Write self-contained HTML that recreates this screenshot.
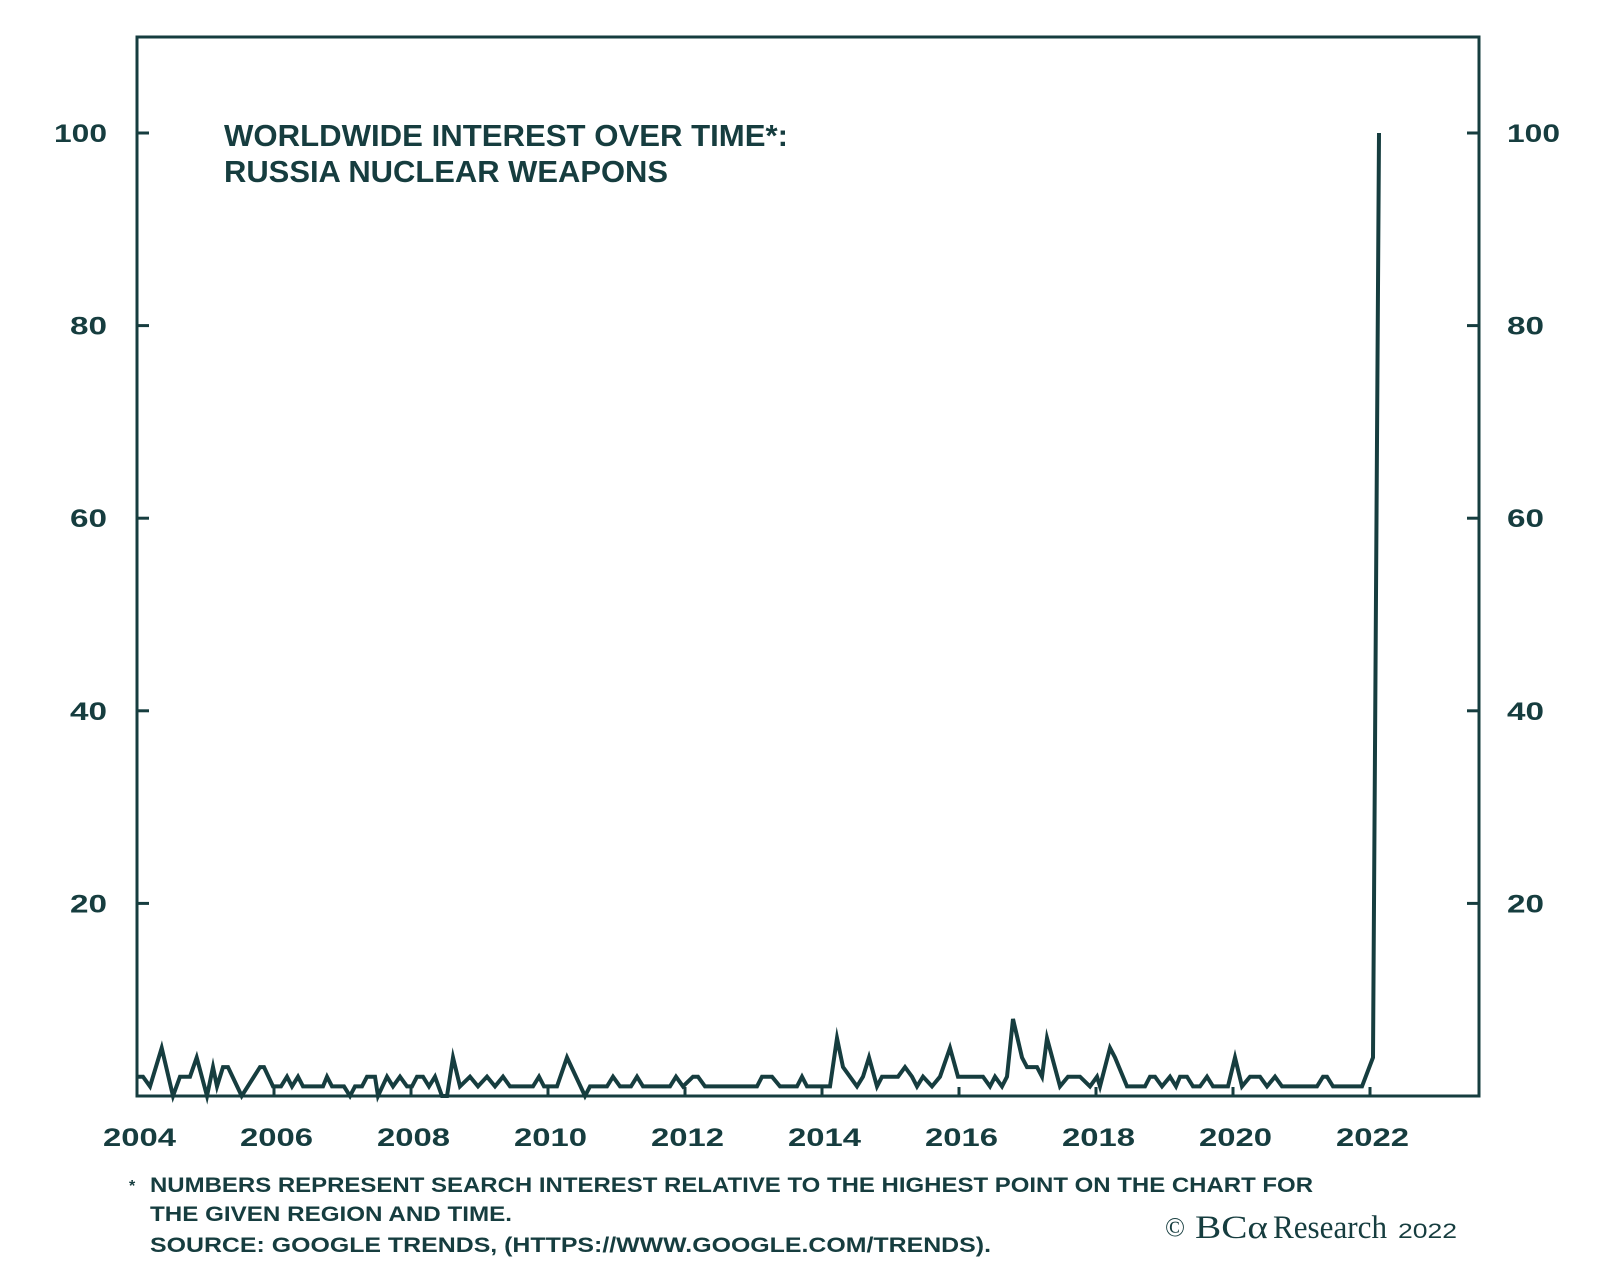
<!DOCTYPE html>
<html>
<head>
<meta charset="utf-8">
<style>
  html, body { margin: 0; padding: 0; background: #ffffff; }
  svg { display: block; }
  .lab { font-family: "Liberation Sans", "DejaVu Sans", sans-serif; font-weight: bold; fill: #163d3f; }
  .ser { font-family: "Liberation Serif", "DejaVu Serif", serif; fill: #163d3f; }
</style>
</head>
<body>
<svg width="1600" height="1288" viewBox="0 0 1600 1288" xmlns="http://www.w3.org/2000/svg">
  <rect x="0" y="0" width="1600" height="1288" fill="#ffffff"/>

  <!-- frame -->
  <rect x="137" y="37" width="1342" height="1059" fill="none" stroke="#163d3f" stroke-width="3"/>

  <!-- y ticks (inward, both sides) -->
  <g stroke="#163d3f" stroke-width="3">
    <line x1="137" y1="133" x2="149" y2="133"/>
    <line x1="137" y1="325.6" x2="149" y2="325.6"/>
    <line x1="137" y1="518.2" x2="149" y2="518.2"/>
    <line x1="137" y1="710.8" x2="149" y2="710.8"/>
    <line x1="137" y1="903.4" x2="149" y2="903.4"/>
    <line x1="1467" y1="133" x2="1479" y2="133"/>
    <line x1="1467" y1="325.6" x2="1479" y2="325.6"/>
    <line x1="1467" y1="518.2" x2="1479" y2="518.2"/>
    <line x1="1467" y1="710.8" x2="1479" y2="710.8"/>
    <line x1="1467" y1="903.4" x2="1479" y2="903.4"/>
    <!-- x ticks (inward, upward) -->
    <line x1="274" y1="1096" x2="274" y2="1087"/>
    <line x1="411" y1="1096" x2="411" y2="1087"/>
    <line x1="548" y1="1096" x2="548" y2="1087"/>
    <line x1="685" y1="1096" x2="685" y2="1087"/>
    <line x1="822" y1="1096" x2="822" y2="1087"/>
    <line x1="959" y1="1096" x2="959" y2="1087"/>
    <line x1="1096" y1="1096" x2="1096" y2="1087"/>
    <line x1="1233" y1="1096" x2="1233" y2="1087"/>
    <line x1="1370" y1="1096" x2="1370" y2="1087"/>
  </g>

  <!-- left y labels -->
  <g class="lab" font-size="25" text-anchor="end">
    <text x="107" y="142" textLength="53" lengthAdjust="spacingAndGlyphs">100</text>
    <text x="107" y="334.6" textLength="37" lengthAdjust="spacingAndGlyphs">80</text>
    <text x="107" y="527.2" textLength="37" lengthAdjust="spacingAndGlyphs">60</text>
    <text x="107" y="719.8" textLength="37" lengthAdjust="spacingAndGlyphs">40</text>
    <text x="107" y="912.4" textLength="37" lengthAdjust="spacingAndGlyphs">20</text>
  </g>
  <!-- right y labels -->
  <g class="lab" font-size="25">
    <text x="1507" y="142" textLength="53" lengthAdjust="spacingAndGlyphs">100</text>
    <text x="1507" y="334.6" textLength="37" lengthAdjust="spacingAndGlyphs">80</text>
    <text x="1507" y="527.2" textLength="37" lengthAdjust="spacingAndGlyphs">60</text>
    <text x="1507" y="719.8" textLength="37" lengthAdjust="spacingAndGlyphs">40</text>
    <text x="1507" y="912.4" textLength="37" lengthAdjust="spacingAndGlyphs">20</text>
  </g>

  <!-- x labels -->
  <g class="lab" font-size="25">
    <text x="103" y="1146" textLength="73" lengthAdjust="spacingAndGlyphs">2004</text>
    <text x="240" y="1146" textLength="73" lengthAdjust="spacingAndGlyphs">2006</text>
    <text x="377" y="1146" textLength="73" lengthAdjust="spacingAndGlyphs">2008</text>
    <text x="514" y="1146" textLength="73" lengthAdjust="spacingAndGlyphs">2010</text>
    <text x="651" y="1146" textLength="73" lengthAdjust="spacingAndGlyphs">2012</text>
    <text x="788" y="1146" textLength="73" lengthAdjust="spacingAndGlyphs">2014</text>
    <text x="925" y="1146" textLength="73" lengthAdjust="spacingAndGlyphs">2016</text>
    <text x="1062" y="1146" textLength="73" lengthAdjust="spacingAndGlyphs">2018</text>
    <text x="1199" y="1146" textLength="73" lengthAdjust="spacingAndGlyphs">2020</text>
    <text x="1336" y="1146" textLength="73" lengthAdjust="spacingAndGlyphs">2022</text>
  </g>

  <!-- title -->
  <g class="lab" font-size="31">
    <text x="224" y="146" textLength="564" lengthAdjust="spacingAndGlyphs">WORLDWIDE INTEREST OVER TIME*:</text>
    <text x="224" y="182" textLength="444" lengthAdjust="spacingAndGlyphs">RUSSIA NUCLEAR WEAPONS</text>
  </g>

  <!-- series -->
  <polyline fill="none" stroke="#163d3f" stroke-width="4" stroke-linejoin="miter" stroke-miterlimit="6"
    points="
137,1076.7 143,1076.7 150,1086.4 161.7,1047.9 173,1096 180,1076.7 190,1076.7 196.7,1057.5 207,1096
213,1067.1 217,1086.4 223,1067.1 228,1067.1 241.7,1096 260,1067.1 264,1067.1 273,1086.4 281,1086.4
287,1076.7 292,1086.4 298,1076.7 303,1086.4 323,1086.4 327,1076.7 332,1086.4 344,1086.4 350,1096
355,1086.4 362,1086.4 367,1076.7 375,1076.7 378,1096 387,1076.7 393,1086.4 400,1076.7 407,1086.4
412,1086.4 417,1076.7 423,1076.7 429,1086.4 435,1076.7 442,1096 447,1096 453,1057.5 460,1086.4
470,1076.7 478,1086.4 487,1076.7 495,1086.4 503,1076.7 510,1086.4 533,1086.4 539,1076.7 544,1086.4
557,1086.4 567,1057.5 585,1096 590,1086.4 607,1086.4 613,1076.7 620,1086.4 631,1086.4 637,1076.7
643,1086.4 670,1086.4 676,1076.7 683,1086.4 693,1076.7 698,1076.7 705,1086.4 757,1086.4 762,1076.7
772,1076.7 780,1086.4 797,1086.4 802,1076.7 807,1086.4 830,1086.4 837,1038.2 843,1067.1 857,1086.4
863,1076.7 869,1057.5 877,1086.4 882,1076.7 898,1076.7 905,1067.1 912,1076.7 917,1086.4 923,1076.7
932,1086.4 940,1076.7 950,1047.9 958,1076.7 983,1076.7 990,1086.4 995,1076.7 1002,1086.4 1007,1076.7
1013,1019 1022,1057.5 1027,1067.1 1037,1067.1 1042,1076.7 1047,1038.2 1060,1086.4 1068,1076.7
1080,1076.7 1090,1086.4 1097,1076.7 1100,1086.4 1110,1047.9 1115,1057.5 1127,1086.4 1145,1086.4
1150,1076.7 1155,1076.7 1162,1086.4 1170,1076.7 1176,1086.4 1180,1076.7 1187,1076.7 1193,1086.4
1200,1086.4 1207,1076.7 1213,1086.4 1228,1086.4 1235,1057.5 1242,1086.4 1250,1076.7 1260,1076.7
1267,1086.4 1275,1076.7 1282,1086.4 1317,1086.4 1323,1076.7 1327,1076.7 1333,1086.4 1362,1086.4
1373,1057.5 1379,133"/>

  <!-- footnote -->
  <text class="lab" x="129" y="1191" font-size="16">*</text>
  <g class="lab" font-size="21">
    <text x="150" y="1192" textLength="1163" lengthAdjust="spacingAndGlyphs">NUMBERS REPRESENT SEARCH INTEREST RELATIVE TO THE HIGHEST POINT ON THE CHART FOR</text>
    <text x="150" y="1221" textLength="362" lengthAdjust="spacingAndGlyphs">THE GIVEN REGION AND TIME.</text>
    <text x="150" y="1252" textLength="841" lengthAdjust="spacingAndGlyphs">SOURCE: GOOGLE TRENDS, (HTTPS://WWW.GOOGLE.COM/TRENDS).</text>
  </g>

  <!-- logo -->
  <text class="ser" x="1165" y="1236" font-size="27" textLength="20" lengthAdjust="spacingAndGlyphs">©</text>
  <text class="ser" x="1195" y="1238" font-size="33" textLength="73" lengthAdjust="spacingAndGlyphs">BCα</text>
  <text class="ser" x="1273" y="1238" font-size="33" textLength="114" lengthAdjust="spacingAndGlyphs">Research</text>
  <text x="1398" y="1238" font-size="21" textLength="59" lengthAdjust="spacingAndGlyphs" font-family="Liberation Sans, DejaVu Sans, sans-serif" fill="#163d3f">2022</text>
</svg>
</body>
</html>
